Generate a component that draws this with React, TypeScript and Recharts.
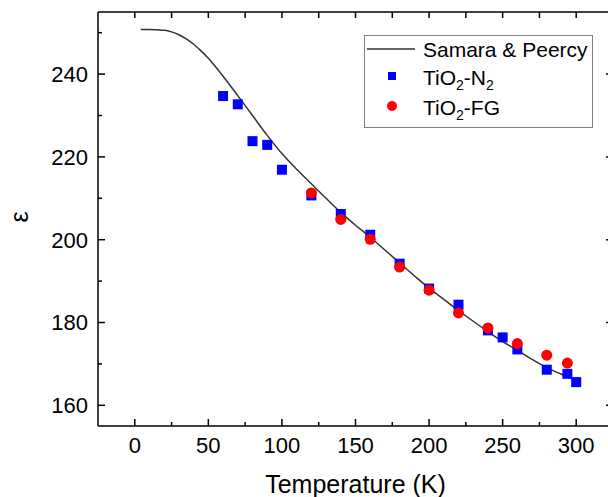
import React from "react";
import {
  ComposedChart,
  Line,
  Scatter,
  XAxis,
  YAxis,
  Legend,
  Label,
} from "recharts";

// Samara & Peercy model curve
const curveT = [4, 10, 15, 20, 25, 30, 35, 40, 45, 50, 55, 60, 70, 80, 90, 100, 110, 120, 130, 140, 150, 160, 170, 180, 190, 200, 210, 220, 230, 240, 250, 260, 270, 280, 290, 300];
const curveEps = [250.8, 250.8, 250.7, 250.6, 250.2, 249.5, 248.5, 247.2, 245.6, 243.8, 241.7, 239.5, 234.8, 230.0, 225.2, 220.8, 217.0, 213.5, 210.0, 206.6, 203.5, 200.6, 197.5, 194.4, 191.3, 188.3, 185.6, 182.9, 180.3, 177.8, 175.4, 173.3, 171.1, 169.1, 167.5, 166.0];

// TiO2-N2 (blue squares)
const n2T = [60, 70, 80, 90, 100, 120, 140, 160, 180, 200, 220, 240, 250, 260, 280, 294, 300];
const n2Eps = [234.7, 232.7, 223.8, 222.9, 216.9, 210.7, 206.2, 201.2, 194.2, 188.2, 184.3, 178.1, 176.4, 173.5, 168.6, 167.6, 165.6];

// TiO2-FG (red circles)
const fgT = [120, 140, 160, 180, 200, 220, 240, 260, 280, 294];
const fgEps = [211.3, 204.9, 200.1, 193.4, 187.8, 182.3, 178.7, 174.9, 172.1, 170.2];

const xTicks = [0, 25, 50, 75, 100, 125, 150, 175, 200, 225, 250, 275, 300];
const yTicks = [160, 170, 180, 190, 200, 210, 220, 230, 240, 250];
const yRightTicks = [160, 180, 200, 220, 240];

const curveData = curveT.map((T, i) => ({ T, eps: curveEps[i] }));
const n2Data = n2T.map((T, i) => ({ T, eps: n2Eps[i] }));
const fgData = fgT.map((T, i) => ({ T, eps: fgEps[i] }));

const FONT = "'Liberation Sans', Arial, sans-serif";
const AXIS_W = 1.5;

const BottomTick = (props: any) => {
  const { x, y, payload } = props;
  const major = payload.value % 50 === 0;
  return (
    <g>
      <line x1={x} x2={x} y1={y} y2={y - (major ? 7 : 4)} stroke="#000" strokeWidth={AXIS_W} />
      {major && (
        <text x={x} y={y + 27} textAnchor="middle" fontSize={22} fontFamily={FONT} fill="#000">
          {payload.value}
        </text>
      )}
    </g>
  );
};

const TopTick = (props: any) => {
  const { x, y } = props;
  return <line x1={x} x2={x} y1={y} y2={y + 6} stroke="#000" strokeWidth={AXIS_W} />;
};

const LeftTick = (props: any) => {
  const { x, y, payload } = props;
  const major = payload.value % 20 === 0;
  return (
    <g>
      <line x1={x} x2={x + (major ? 7 : 4)} y1={y} y2={y} stroke="#000" strokeWidth={AXIS_W} />
      {major && (
        <text x={x - 10} y={y} dy="0.36em" textAnchor="end" fontSize={22} fontFamily={FONT} fill="#000">
          {payload.value}
        </text>
      )}
    </g>
  );
};

const RightTick = (props: any) => {
  const { x, y } = props;
  return <line x1={x} x2={x - 7} y1={y} y2={y} stroke="#000" strokeWidth={AXIS_W} />;
};

const LegendContent = () => (
  <svg width={229} height={93} style={{ display: "block", overflow: "visible" }}>
    <rect x={0.5} y={0.5} width={228} height={92} fill="#fff" stroke="#7f7f7f" strokeWidth={1} />
    <line x1={3} x2={51} y1={14} y2={14} stroke="#333" strokeWidth={1.5} />
    <text x={59} y={21.7} fontSize={21} fontFamily={FONT} fill="#000">
      Samara &amp; Peercy
    </text>
    <rect x={24} y={37} width={8} height={8} fill="#0000ff" />
    <text x={59} y={50} fontSize={21} fontFamily={FONT} fill="#000">
      <tspan>TiO</tspan>
      <tspan fontSize={14} dy={5}>2</tspan>
      <tspan dy={-5}>-N</tspan>
      <tspan fontSize={14} dy={5}>2</tspan>
    </text>
    <circle cx={28} cy={71} r={5} fill="#ff0000" />
    <text x={59} y={80} fontSize={21} fontFamily={FONT} fill="#000">
      <tspan>TiO</tspan>
      <tspan fontSize={14} dy={5}>2</tspan>
      <tspan dy={-5}>-FG</tspan>
    </text>
  </svg>
);

const SquareShape = (props: any) => {
  const { cx, cy } = props;
  return <rect x={cx - 5} y={cy - 5} width={10} height={10} fill="#0000ff" />;
};

const CircleShape = (props: any) => {
  const { cx, cy } = props;
  return <circle cx={cx} cy={cy} r={5.5} fill="#ff0000" />;
};

export default function App() {
  return (
    <div style={{ position: "absolute", left: 0, top: 0, width: 608, height: 497, overflow: "hidden", background: "#fff" }}>
      <ComposedChart
        width={620}
        height={497}
        margin={{ top: 11, right: 6, bottom: 70, left: 97 }}
        style={{ fontFamily: FONT }}
      >
        <XAxis
          xAxisId={0}
          dataKey="T"
          type="number"
          domain={[-25, 325]}
          ticks={xTicks}
          interval={0}
          height={1}
          tickSize={0}
          tickMargin={0}
          tickLine={false}
          tick={<BottomTick />}
          axisLine={{ stroke: "#000", strokeWidth: AXIS_W }}
          allowDataOverflow
        >
          <Label
            content={(p: any) => {
              const vb = p.viewBox || {};
              const cx = (vb.x ?? 98) + (vb.width ?? 514) / 2;
              return (
                <text x={cx} y={493} textAnchor="middle" fontSize={25} fontFamily={FONT} fill="#000">
                  Temperature (K)
                </text>
              );
            }}
          />
        </XAxis>
        <XAxis
          xAxisId="top"
          orientation="top"
          dataKey="T"
          type="number"
          domain={[-25, 325]}
          ticks={xTicks}
          interval={0}
          height={1}
          tickSize={0}
          tickMargin={0}
          tickLine={false}
          tick={<TopTick />}
          axisLine={{ stroke: "#000", strokeWidth: AXIS_W }}
          allowDataOverflow
        />
        <YAxis
          yAxisId={0}
          type="number"
          domain={[155, 255]}
          ticks={yTicks}
          interval={0}
          width={1}
          tickSize={0}
          tickMargin={0}
          tickLine={false}
          tick={<LeftTick />}
          axisLine={{ stroke: "#000", strokeWidth: AXIS_W }}
          allowDataOverflow
        >
          <Label
            content={() => (
              <text x={20} y={217} transform="rotate(-90 20 217)" textAnchor="middle" dy="0.3em" fontSize={25} fontFamily={FONT} fill="#000">
                ε
              </text>
            )}
          />
        </YAxis>
        <YAxis
          yAxisId="right"
          orientation="right"
          type="number"
          domain={[155, 255]}
          ticks={yRightTicks}
          interval={0}
          width={1}
          tickSize={0}
          tickMargin={0}
          tickLine={false}
          tick={<RightTick />}
          axisLine={{ stroke: "#000", strokeWidth: AXIS_W }}
          allowDataOverflow
        />
        <Legend
          layout="vertical"
          align="center"
          verticalAlign="middle"
          content={<LegendContent />}
          wrapperStyle={{ position: "absolute", left: 364, top: 35, width: 229, height: 93 }}
        />
        <Line
          data={curveData}
          dataKey="eps"
          type="monotone"
          stroke="#333"
          strokeWidth={1.5}
          dot={false}
          activeDot={false}
          isAnimationActive={false}
          legendType="none"
        />
        <Scatter
          data={n2Data}
          dataKey="eps"
          shape={<SquareShape />}
          isAnimationActive={false}
          legendType="none"
        />
        <Scatter
          data={fgData}
          dataKey="eps"
          shape={<CircleShape />}
          isAnimationActive={false}
          legendType="none"
        />
      </ComposedChart>
    </div>
  );
}
